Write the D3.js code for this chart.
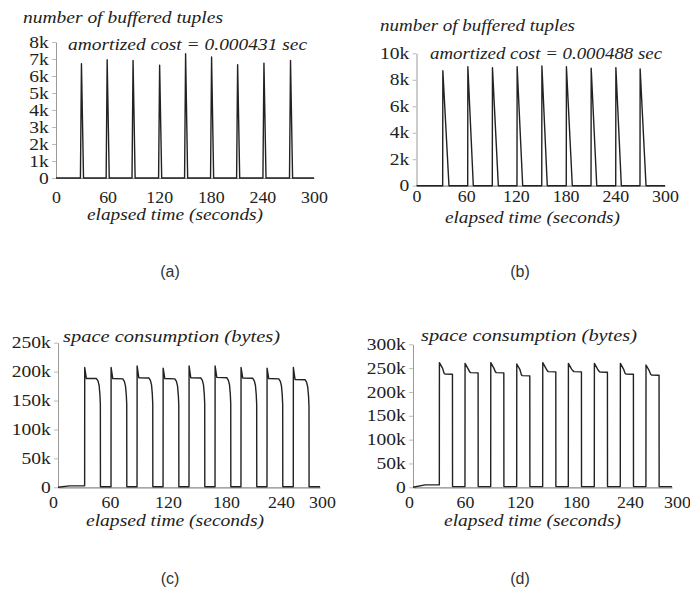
<!DOCTYPE html>
<html>
<head>
<meta charset="utf-8">
<script src="https://cdn.jsdelivr.net/npm/d3@7"></script>
<style>
  body { margin: 0; background: #fff; }
</style>
</head>
<body>
<div id="chart"></div>
<script>
    // x axis is the same for all four panels (seconds)
    var xTicks = [0, 60, 120, 180, 240, 300];

    // y ticks, in thousands
    var yTicksA = [0, 1, 2, 3, 4, 5, 6, 7, 8];
    var yTicksB = [0, 2, 4, 6, 8, 10];
    var yTicksC = [0, 50, 100, 150, 200, 250];
    var yTicksD = [0, 50, 100, 150, 200, 250, 300];

    // (a) number of buffered tuples, [seconds, k tuples]
    var bufferedA = [
      [0, 0], [28.4, 0], [29.6, 6.73], [32, 0],
      [58.3, 0], [59.5, 6.96], [61.9, 0],
      [88.4, 0], [89.6, 6.92], [92, 0],
      [119.3, 0], [120.5, 6.63], [122.9, 0],
      [149.5, 0], [150.7, 7.31], [153.1, 0],
      [179.7, 0], [180.9, 7.12], [183.3, 0],
      [210, 0], [211.2, 6.67], [213.6, 0],
      [240.6, 0], [241.8, 6.76], [244.2, 0],
      [271.5, 0], [272.7, 6.92], [275.1, 0],
      [300, 0]
    ];

    // (b) number of buffered tuples, [seconds, k tuples]
    var bufferedB = [
      [0, 0], [31.6, 0], [31.8, 8.69], [39.2, 0],
      [61.8, 0], [62, 8.99], [68.6, 0],
      [91.5, 0], [91.7, 8.92], [98.8, 0],
      [121.3, 0], [121.5, 8.99], [128.2, 0],
      [151.2, 0], [151.4, 9.04], [157.9, 0],
      [180.8, 0], [181, 8.99], [188.1, 0],
      [210.7, 0], [210.9, 8.87], [217.6, 0],
      [240.5, 0], [240.7, 8.92], [247.3, 0],
      [269.8, 0], [270, 8.82], [277.1, 0],
      [300, 0]
    ];

    // (c) space consumption, [seconds, k bytes]
    var spaceC = [
      [0, 0], [13, 2.5], [30.5, 2.5],
      [30.6, 207], [32.5, 188], [44, 188], [45.8, 184], [47.1, 176], [48, 160], [48.5, 143], [48.6, 1],
      [60.7, 1], [60.8, 207], [62.7, 188], [74.2, 187.5], [76, 183], [77.3, 175], [78.2, 160], [78.7, 143], [78.8, 1],
      [90.5, 1], [90.6, 210], [92.5, 189.5], [104, 189], [105.8, 185], [107.1, 177], [108, 161], [108.5, 144], [108.6, 1],
      [120.3, 1], [120.4, 206], [122.3, 188], [133.8, 187.5], [135.6, 183], [136.9, 175], [137.8, 159], [138.3, 142], [138.4, 1],
      [150, 1], [150.1, 210], [152, 189.5], [163.5, 189], [165.3, 185], [166.6, 177], [167.5, 161], [168, 144], [168.1, 1],
      [179.8, 1], [179.9, 210], [181.8, 190], [193.3, 189.5], [195.1, 185], [196.4, 177], [197.3, 161], [197.8, 145], [197.9, 1],
      [209.5, 1], [209.6, 207], [211.5, 189], [223, 188.5], [224.8, 184], [226.1, 176], [227, 160], [227.5, 143], [227.6, 1],
      [239.3, 1], [239.4, 206], [241.3, 188], [252.8, 187.5], [254.6, 183], [255.9, 175], [256.8, 159], [257.3, 142], [257.4, 1],
      [269.4, 1], [269.5, 207], [271.4, 186.5], [282.9, 186], [284.7, 181.5], [286, 173], [286.9, 157], [287.4, 140], [287.5, 1],
      [300, 1]
    ];

    // (d) space consumption, [seconds, k bytes]
    var spaceD = [
      [0, 0], [14, 5], [30.5, 5],
      [30.6, 261.5], [34.3, 249.5], [36, 239.3], [37, 237.8], [45.7, 237.3], [45.8, 1.5],
      [60.2, 1.5], [60.3, 260], [64, 248], [65.7, 242.1], [66.7, 240.6], [75.4, 240.1], [75.5, 1.5],
      [90, 1.5], [90.1, 261.5], [93.8, 249.5], [95.5, 242.1], [96.5, 240.6], [105.2, 240.1], [105.3, 1.5],
      [120.1, 1.5], [120.2, 258.7], [123.9, 246.7], [125.6, 235.8], [126.6, 234.3], [135.3, 233.8], [135.4, 1.5],
      [150.2, 1.5], [150.3, 261.5], [154, 249.5], [155.7, 244.2], [156.7, 242.7], [165.4, 242.2], [165.5, 1.5],
      [179.9, 1.5], [180, 260], [183.7, 248], [185.4, 244.2], [186.4, 242.7], [195.1, 242.2], [195.2, 1.5],
      [210, 1.5], [210.1, 260], [213.8, 248], [215.5, 243.5], [216.5, 242], [225.2, 241.5], [225.3, 1.5],
      [240.1, 1.5], [240.2, 260], [243.9, 248], [245.6, 239.3], [246.6, 237.8], [255.3, 237.3], [255.4, 1.5],
      [269.8, 1.5], [269.9, 256.6], [273.6, 244.6], [275.3, 237.2], [276.3, 235.7], [285, 235.2], [285.1, 1.5],
      [300, 1.5]
    ];

    var serif = "Liberation Serif, Times New Roman, serif";

    var svg = d3.select("#chart")
                .append("svg")
                .attr("width", 690)
                .attr("height", 597);

    var fmtK = function(d) { return d === 0 ? "0" : d + "k"; };

    // one panel: xr/yr are pixel ranges, xPad the gap to the x tick labels.
    // labelAt: where the scan actually printed the x labels (they drift from the data axis in c/d)
    var plot = function(data, yTicks, xr, yr, xPad, labelAt) {
       var x = d3.scaleLinear().domain([0, 300]).range(xr);
       var y = d3.scaleLinear().domain([0, yTicks[yTicks.length - 1]]).range(yr);
       var xl = labelAt ? d3.scaleLinear().domain(xTicks).range(labelAt) : x;
       var g = svg.append("g");

       var ya = g.append("g")
         .attr("transform", "translate(" + xr[0] + ",0)")
         .call(d3.axisLeft(y).tickValues(yTicks).tickSize(4).tickSizeOuter(0)
                .tickPadding(2).tickFormat(fmtK));
       ya.select(".domain").attr("stroke", "#999");
       ya.selectAll(".tick line").attr("stroke", "#bbb");
       ya.selectAll("text")
         .attr("font-family", serif)
         .attr("font-size", 16)
         .attr("fill", "#222")
         .attr("transform", "scale(1.22,1)");

       // axis line from the data scale
       g.append("g")
         .attr("transform", "translate(0," + yr[0] + ")")
         .call(d3.axisBottom(x).tickValues([]).tickSizeOuter(0))
         .select(".domain").attr("stroke", "#888").attr("stroke-width", 1.2);

       var xa = g.append("g")
         .attr("transform", "translate(0," + yr[0] + ")")
         .call(d3.axisBottom(xl).tickValues(xTicks).tickSize(0).tickPadding(xPad));
       xa.select(".domain").remove();
       xa.selectAll("text")
         .attr("font-family", serif)
         .attr("font-size", 17)
         .attr("fill", "#222")
         .attr("transform", "scale(1.05,1)");

       g.append("path")
         .datum(data)
         .attr("fill", "none")
         .attr("stroke", "#222")
         .attr("stroke-width", 1.4)
         .attr("stroke-linejoin", "round")
         .attr("d", d3.line().x(function(d) { return x(d[0]); })
                             .y(function(d) { return y(d[1]); }));
    }

    // italic captions inside the panels, stretched like the scan
    var caption = function(label, x, y, size, len) {
       svg.append("text")
         .attr("x", x)
         .attr("y", y)
         .attr("font-family", serif)
         .attr("font-size", size)
         .attr("font-style", "italic")
         .attr("fill", "#222")
         .attr("textLength", len)
         .attr("lengthAdjust", "spacingAndGlyphs")
         .text(label);
    }

    var panelLabel = function(label, x, y) {
       svg.append("text")
         .attr("x", x)
         .attr("y", y)
         .attr("text-anchor", "middle")
         .attr("font-family", "Liberation Sans, Arial, sans-serif")
         .attr("font-size", 16)
         .attr("fill", "#333")
         .text(label);
    }

    plot(bufferedA, yTicksA, [56, 314], [178, 42], 13);
    plot(bufferedB, yTicksB, [416.5, 665], [185.7, 53.3], 4);
    plot(spaceC, yTicksC, [58, 320], [487.3, 342.7], 9, [53, 110, 168, 226, 281, 322]);
    plot(spaceD, yTicksD, [413, 672], [487.3, 344.3], 9, [409, 465, 520, 576, 630, 677]);

    caption("number of buffered tuples", 23, 23, 16, 200);
    caption("amortized cost = 0.000431 sec", 68, 49.5, 16, 239);
    caption("elapsed time (seconds)", 87, 220, 16, 176);

    caption("number of buffered tuples", 380, 31, 16, 195);
    caption("amortized cost = 0.000488 sec", 430, 58.5, 16, 232);
    caption("elapsed time (seconds)", 445, 223, 16, 175);

    caption("space consumption (bytes)", 63, 342, 16, 217);
    caption("elapsed time (seconds)", 86, 526, 16, 178);

    caption("space consumption (bytes)", 421, 341, 16, 216);
    caption("elapsed time (seconds)", 444, 526, 16, 177);

    panelLabel("(a)", 170, 277);
    panelLabel("(b)", 520, 277);
    panelLabel("(c)", 170, 584);
    panelLabel("(d)", 520, 584);
</script>
</body>
</html>
